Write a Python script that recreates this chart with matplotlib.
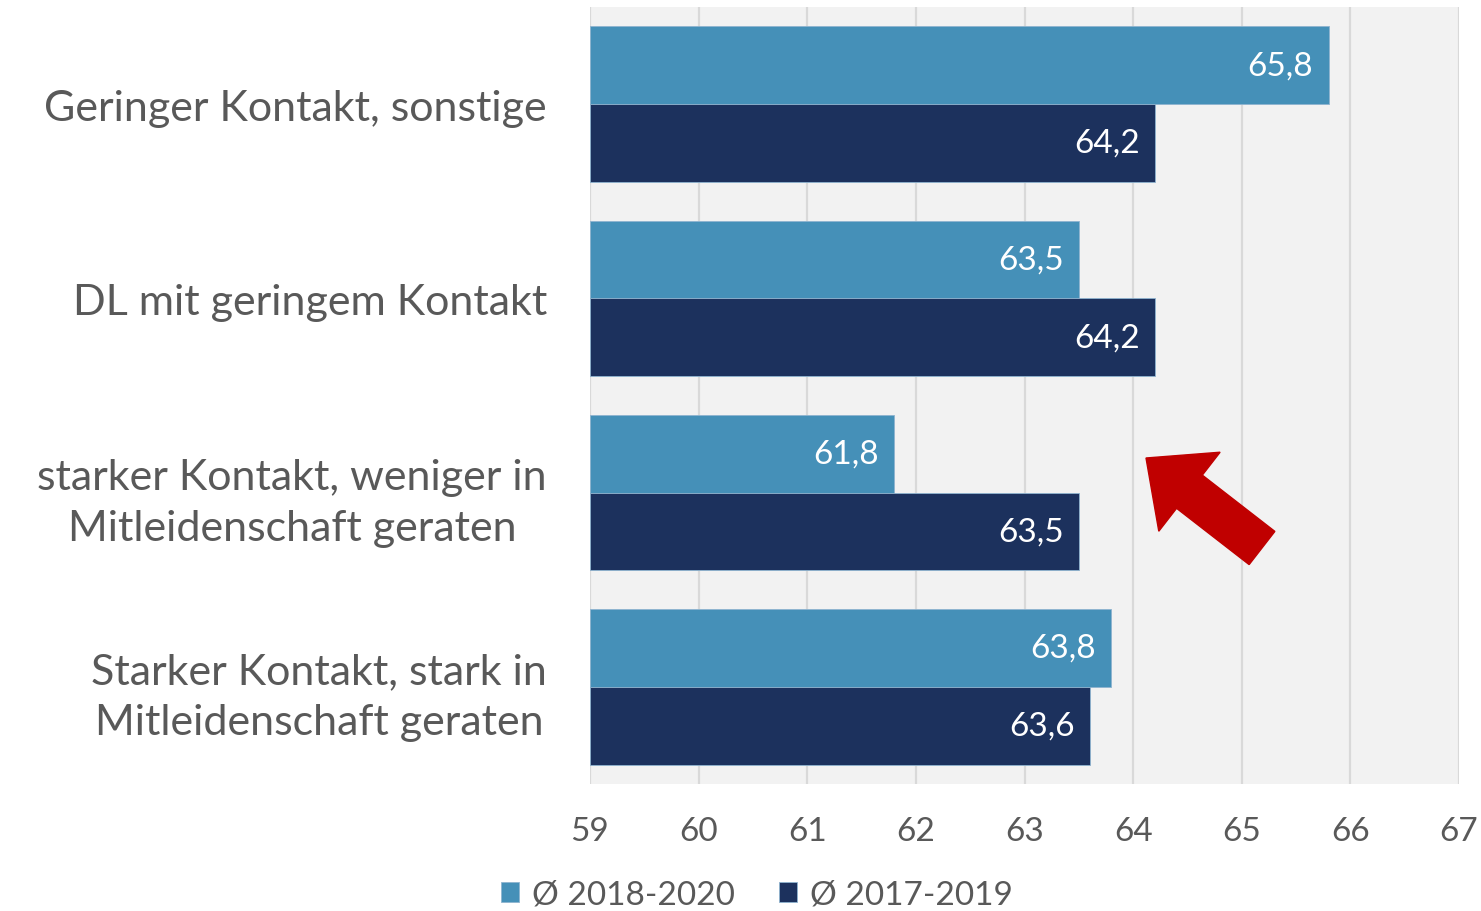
import numpy as np
import matplotlib.pyplot as plt
from matplotlib.patches import FancyArrow

plt.rcParams['font.family'] = ['Lato', 'DejaVu Sans']

# Daten
kategorien = ['Geringer Kontakt, sonstige',
              'DL mit geringem Kontakt',
              'starker Kontakt, weniger in\nMitleidenschaft geraten',
              'Starker Kontakt, stark in\nMitleidenschaft geraten']
werte_2018_2020 = [65.8, 63.5, 61.8, 63.8]
werte_2017_2019 = [64.2, 64.2, 63.5, 63.6]
serien_namen = ['Ø 2018-2020', 'Ø 2017-2019']
x_ticks = [59, 60, 61, 62, 63, 64, 65, 66, 67]

hell = '#4590b8'
dunkel = '#1c315d'
grau = '#595959'

fig = plt.figure(figsize=(14.81, 9.12), dpi=100)
ax = fig.add_axes([590 / 1481, 1 - 785 / 912, (1459 - 590) / 1481, (785 - 8) / 912])
ax.set_facecolor('#f2f2f2')

y = np.arange(len(kategorien))
h = 0.4
b1 = ax.barh(y - h / 2, np.array(werte_2018_2020) - 59, left=59, height=h, color=hell,
             edgecolor='#8fb4d0', linewidth=0.6, label=serien_namen[0], zorder=3)
b2 = ax.barh(y + h / 2, np.array(werte_2017_2019) - 59, left=59, height=h, color=dunkel,
             edgecolor='#8fb4d0', linewidth=0.6, label=serien_namen[1], zorder=3)

# Werte in die Balken schreiben
for yy, w in zip(y - h / 2, werte_2018_2020):
    ax.annotate(f'{w:.1f}'.replace('.', ','), (w, yy), xytext=(-11, 0), textcoords='offset points',
                ha='right', va='center', color='white', fontsize=24, zorder=4)
for yy, w in zip(y + h / 2, werte_2017_2019):
    ax.annotate(f'{w:.1f}'.replace('.', ','), (w, yy), xytext=(-11, 0), textcoords='offset points',
                ha='right', va='center', color='white', fontsize=24, zorder=4)

ax.set_xlim(59, 67)
ax.set_ylim(3.5, -0.5)
ax.set_xticks(x_ticks)
ax.set_xticklabels([str(t) for t in x_ticks], fontsize=24, color=grau)
ax.set_yticks(y)
ax.set_yticklabels(kategorien, fontsize=31, color=grau, multialignment='center', linespacing=1.4)
ax.tick_params(axis='both', length=0)
ax.tick_params(axis='x', pad=23)
ax.tick_params(axis='y', pad=31)
ax.grid(axis='x', color='#d9d9d9', linewidth=1.6, zorder=0)
for s in ax.spines.values():
    s.set_visible(False)

# roter Pfeil
pfeil = FancyArrow(12.62, 3.63, -1.16, 0.90, width=0.42, head_width=1.0, head_length=0.55,
                   length_includes_head=True, color='#c00000', transform=fig.dpi_scale_trans, zorder=5)
fig.add_artist(pfeil)

fig.legend(handles=[b1, b2], loc='center', bbox_to_anchor=(757 / 1481, 1 - 896 / 912), ncol=2,
           frameon=False, fontsize=24, labelcolor=grau, handlelength=0.55, handleheight=0.55,
           handletextpad=0.4, columnspacing=1.3)

fig.savefig('out.png', dpi=100)
